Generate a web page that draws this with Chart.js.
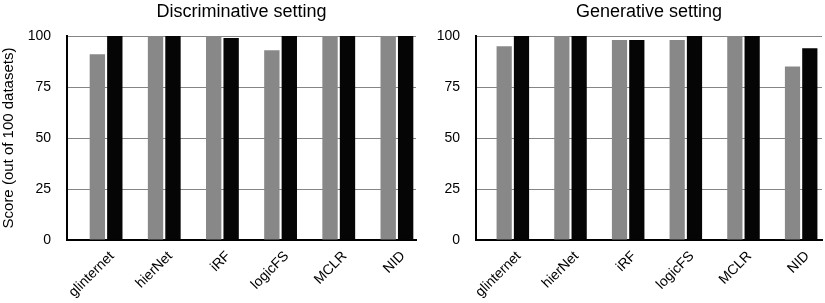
<!DOCTYPE html>
<html>
<head>
<meta charset="utf-8">
<script src="https://cdn.jsdelivr.net/npm/chart.js@4.4.1/dist/chart.umd.min.js"></script>
<style>
  html, body { margin: 0; padding: 0; background: #fff; overflow: hidden; }
  #wrap { position: relative; width: 825px; height: 303px; }
  .box { position: absolute; top: 0; height: 303px; }
  #leftBox { left: 0; width: 420px; }
  #rightBox { left: 410px; width: 415px; }
</style>
</head>
<body>
<div id="wrap">
  <div class="box" id="leftBox"><canvas id="discChart"></canvas></div>
  <div class="box" id="rightBox"><canvas id="genChart"></canvas></div>
</div>
<script>
const methods = ['glinternet', 'hierNet', 'iRF', 'logicFS', 'MCLR', 'NID'];
const discGray = [91, 100, 100, 93, 100, 100];
const discBlack = [100, 100, 99, 100, 100, 100];
const genGray = [95, 100, 98, 98, 100, 85];
const genBlack = [100, 100, 98, 100, 100, 94];
const yTicks = [0, 25, 50, 75, 100];

const FONT = 'Helvetica, "Liberation Sans", Arial, sans-serif';

// shifts the category positions a bit right of the y axis and draws the panel title
const panelPlugin = {
    id: 'panel',
    afterLayout(chart, args, opts) {
        const x = chart.scales.x;
        x._startPixel += opts.shift;
        x._endPixel += opts.shift;
    },
    afterDraw(chart, args, opts) {
        const ctx = chart.ctx;
        const a = chart.chartArea;
        ctx.save();
        ctx.font = '18px ' + FONT;
        ctx.fillStyle = '#000';
        ctx.textAlign = 'center';
        ctx.textBaseline = 'alphabetic';
        ctx.fillText(opts.title, (a.left + a.right) / 2, 17);
        ctx.restore();
    }
};

function makeChart(id, title, gray, black, yWidth, rightPad, shift, yTitle) {
    const ctx = document.getElementById(id).getContext('2d');
    return new Chart(ctx, {
        type: 'bar',
        data: {
            labels: methods,
            datasets: [{
                data: gray,
                backgroundColor: '#888888',
                borderWidth: 0,
                barPercentage: 0.88,
                categoryPercentage: 0.6
            }, {
                data: black,
                backgroundColor: '#050505',
                borderWidth: 0,
                barPercentage: 0.88,
                categoryPercentage: 0.6
            }]
        },
        options: {
            responsive: true,
            maintainAspectRatio: false,
            animation: false,
            events: [],
            layout: { padding: { top: 36, right: rightPad, bottom: 0, left: 0 } },
            plugins: {
                legend: { display: false },
                tooltip: { enabled: false },
                panel: { title: title, shift: shift }
            },
            scales: {
                x: {
                    grid: { display: false, drawTicks: false },
                    border: { display: true, color: '#000', width: 2 },
                    ticks: {
                        color: '#000',
                        font: { family: FONT, size: 14 },
                        maxRotation: 45,
                        minRotation: 45,
                        padding: 8,
                        labelOffset: 6
                    },
                    afterFit(scale) { scale.height = 63; }
                },
                y: {
                    min: 0,
                    max: 100,
                    afterBuildTicks(scale) { scale.ticks = yTicks.map(v => ({ value: v })); },
                    grid: { color: '#858585', lineWidth: 1, drawTicks: false },
                    border: { display: true, color: '#000', width: 2 },
                    ticks: {
                        color: '#000',
                        font: { family: FONT, size: 14 },
                        padding: 16
                    },
                    title: {
                        display: !!yTitle,
                        text: yTitle || '',
                        color: '#000',
                        font: { family: FONT, size: 15 },
                        padding: 0
                    },
                    afterFit(scale) { scale.width = yWidth; }
                }
            }
        },
        plugins: [panelPlugin]
    });
}

makeChart('discChart', 'Discriminative setting', discGray, discBlack, 67, 4, 10, 'Score (out of 100 datasets)');
makeChart('genChart', 'Generative setting', genGray, genBlack, 66, 3, 8, null);
</script>
</body>
</html>
